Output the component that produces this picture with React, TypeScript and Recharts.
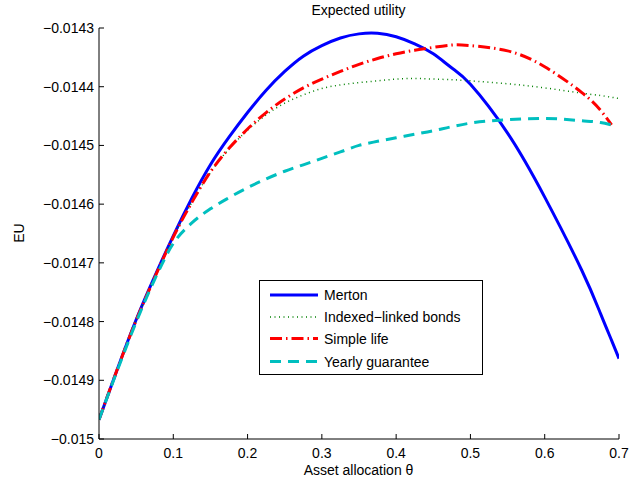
import React from 'react';
import { LineChart, Line, XAxis, YAxis, Legend } from 'recharts';

// asset allocation grid (theta)
const theta = [0, 0.025, 0.05, 0.075, 0.1, 0.125, 0.15, 0.175, 0.2, 0.225, 0.25, 0.275, 0.3, 0.325, 0.35, 0.375, 0.4, 0.425, 0.45, 0.475, 0.5, 0.55, 0.6, 0.65, 0.675, 0.69, 0.7];

const merton = [-0.014967, -0.01488, -0.014797, -0.014723, -0.014654, -0.01459, -0.014533, -0.014486, -0.014444, -0.014406, -0.014374, -0.014348, -0.01433, -0.014317, -0.01431, -0.014309, -0.014315, -0.014327, -0.014344, -0.014368, -0.014396, -0.014479, -0.014588, -0.014713, -0.014786, -0.014832, -0.014863];
const indexed = [-0.014967, -0.01488, -0.014798, -0.014725, -0.014656, -0.014597, -0.014546, -0.014506, -0.014474, -0.014448, -0.014428, -0.014414, -0.014403, -0.014397, -0.014393, -0.01439, -0.014387, -0.014386, -0.014387, -0.014388, -0.01439, -0.014395, -0.014402, -0.014411, -0.014415, -0.014418, -0.01442];
const simpleLife = [-0.014967, -0.01488, -0.014798, -0.014725, -0.014656, -0.014597, -0.014545, -0.014505, -0.014472, -0.014444, -0.014421, -0.014402, -0.014387, -0.014374, -0.014362, -0.014352, -0.014344, -0.014338, -0.014333, -0.014329, -0.01433, -0.014339, -0.014366, -0.01441, -0.01444, -0.014465, null];
const yearly = [-0.014967, -0.014882, -0.014801, -0.014728, -0.014667, -0.014632, -0.014608, -0.014589, -0.014572, -0.014557, -0.014544, -0.014533, -0.014522, -0.014511, -0.0145, -0.014493, -0.014487, -0.014481, -0.014475, -0.014468, -0.014462, -0.014456, -0.014454, -0.014458, -0.014461, -0.014465, null];

const seriesNames = ['Merton', 'Indexed\u2212linked bonds', 'Simple life', 'Yearly guarantee'];

const xTicks = [0, 0.1, 0.2, 0.3, 0.4, 0.5, 0.6, 0.7];
const yTicks = [-0.015, -0.0149, -0.0148, -0.0147, -0.0146, -0.0145, -0.0144, -0.0143];

const data = theta.map((t, i) => ({
  theta: t,
  merton: merton[i],
  indexed: indexed[i],
  simple: simpleLife[i],
  yearly: yearly[i],
}));

const FONT = '"Liberation Sans", Arial, Helvetica, sans-serif';

const styles = [
  { color: '#0000ff', width: 3, dash: undefined as string | undefined },
  { color: '#008000', width: 1.5, dash: '1 3.5' },
  { color: '#ff0000', width: 3, dash: '12 4 1.5 4' },
  { color: '#00bfbf', width: 3, dash: '11 7' },
];

const fmtY = (v: number) => Number(v.toFixed(4)).toString().replace('-', '\u2212');
const fmtX = (v: number) => Number(v.toFixed(1)).toString();

const BottomTick = (props: any) => {
  const { x, y, payload } = props;
  return (
    <g>
      <line x1={x} y1={y} x2={x} y2={y - 5} stroke="#000" strokeWidth={1} />
      <text x={x} y={y + 19} textAnchor="middle" fontSize={14} fontFamily={FONT} fill="#000">
        {fmtX(payload.value)}
      </text>
    </g>
  );
};

const TopTick = (props: any) => {
  const { x, y } = props;
  return <line x1={x} y1={y} x2={x} y2={y + 5} stroke="#000" strokeWidth={1} />;
};

const LeftTick = (props: any) => {
  const { x, y, payload } = props;
  return (
    <g>
      <line x1={x} y1={y} x2={x + 5} y2={y} stroke="#000" strokeWidth={1} />
      <text x={x - 5} y={y + 5} textAnchor="end" fontSize={14} fontFamily={FONT} fill="#000">
        {fmtY(payload.value)}
      </text>
    </g>
  );
};

const RightTick = (props: any) => {
  const { x, y } = props;
  return <line x1={x} y1={y} x2={x - 5} y2={y} stroke="#000" strokeWidth={1} />;
};

// drawn in the series order, not the legend's sorted payload
const LegendBox = () => {
  const rows = [15, 37, 58.5, 81.5];
  return (
    <svg width={225} height={96} style={{ display: 'block' }}>
      <rect x={0.5} y={0.5} width={223} height={94} fill="#fff" stroke="#000" strokeWidth={1} />
      {seriesNames.map((name, i) => (
        <g key={name}>
          <line
            x1={11}
            x2={59}
            y1={rows[i]}
            y2={rows[i]}
            stroke={styles[i].color}
            strokeWidth={styles[i].width}
            strokeDasharray={styles[i].dash}
          />
          <text x={65} y={rows[i] + 5} fontSize={14} fontFamily={FONT} fill="#000">
            {name}
          </text>
        </g>
      ))}
    </svg>
  );
};

export default function App() {
  return (
    <div style={{ position: 'absolute', left: 0, top: 0, width: 629, height: 487, background: '#fff', fontFamily: FONT }}>
      <LineChart width={629} height={487} data={data} margin={{ top: 28, right: 10, bottom: 10, left: 0 }}>
        <XAxis
          xAxisId="b"
          dataKey="theta"
          type="number"
          domain={[0, 0.7]}
          ticks={xTicks}
          interval={0}
          height={38}
          tickSize={0}
          tickMargin={0}
          tickLine={false}
          axisLine={{ stroke: '#000', strokeWidth: 1 }}
          tick={<BottomTick />}
          allowDataOverflow
        />
        <XAxis
          xAxisId="t"
          orientation="top"
          dataKey="theta"
          type="number"
          domain={[0, 0.7]}
          ticks={xTicks}
          interval={0}
          height={0}
          tickSize={0}
          tickMargin={0}
          tickLine={false}
          axisLine={{ stroke: '#000', strokeWidth: 1 }}
          tick={<TopTick />}
          allowDataOverflow
        />
        <YAxis
          yAxisId="l"
          type="number"
          domain={[-0.015, -0.0143]}
          ticks={yTicks}
          interval={0}
          width={99}
          tickSize={0}
          tickMargin={0}
          tickLine={false}
          axisLine={{ stroke: '#000', strokeWidth: 1 }}
          tick={<LeftTick />}
          allowDataOverflow
        />
        <YAxis
          yAxisId="r"
          orientation="right"
          type="number"
          domain={[-0.015, -0.0143]}
          ticks={yTicks}
          interval={0}
          width={0}
          tickSize={0}
          tickMargin={0}
          tickLine={false}
          axisLine={{ stroke: '#000', strokeWidth: 1 }}
          tick={<RightTick />}
          allowDataOverflow
        />
        <Legend
          layout="vertical"
          align="center"
          verticalAlign="middle"
          wrapperStyle={{ left: 259, top: 280, width: 225, height: 96 }}
          content={<LegendBox />}
        />
        <Line xAxisId="b" yAxisId="l" type="natural" dataKey="merton" name={seriesNames[0]} stroke={styles[0].color} strokeWidth={styles[0].width} dot={false} isAnimationActive={false} />
        <Line xAxisId="b" yAxisId="l" type="natural" dataKey="indexed" name={seriesNames[1]} stroke={styles[1].color} strokeWidth={styles[1].width} strokeDasharray={styles[1].dash} dot={false} isAnimationActive={false} />
        <Line xAxisId="b" yAxisId="l" type="natural" dataKey="simple" name={seriesNames[2]} stroke={styles[2].color} strokeWidth={styles[2].width} strokeDasharray={styles[2].dash} dot={false} isAnimationActive={false} />
        <Line xAxisId="b" yAxisId="l" type="monotone" dataKey="yearly" name={seriesNames[3]} stroke={styles[3].color} strokeWidth={styles[3].width} strokeDasharray={styles[3].dash} dot={false} isAnimationActive={false} />
      </LineChart>
      <div style={{ position: 'absolute', left: 0, width: 717, top: 1, textAlign: 'center', fontSize: 14, lineHeight: '18px', color: '#000' }}>
        Expected utility
      </div>
      <div style={{ position: 'absolute', left: 0, width: 717, top: 461, textAlign: 'center', fontSize: 14, lineHeight: '18px', color: '#000' }}>
        Asset allocation θ
      </div>
      <div style={{ position: 'absolute', left: 19, top: 233, transform: 'translate(-50%, -50%) rotate(-90deg)', fontSize: 14, lineHeight: '18px', color: '#000', whiteSpace: 'nowrap' }}>
        EU
      </div>
    </div>
  );
}
